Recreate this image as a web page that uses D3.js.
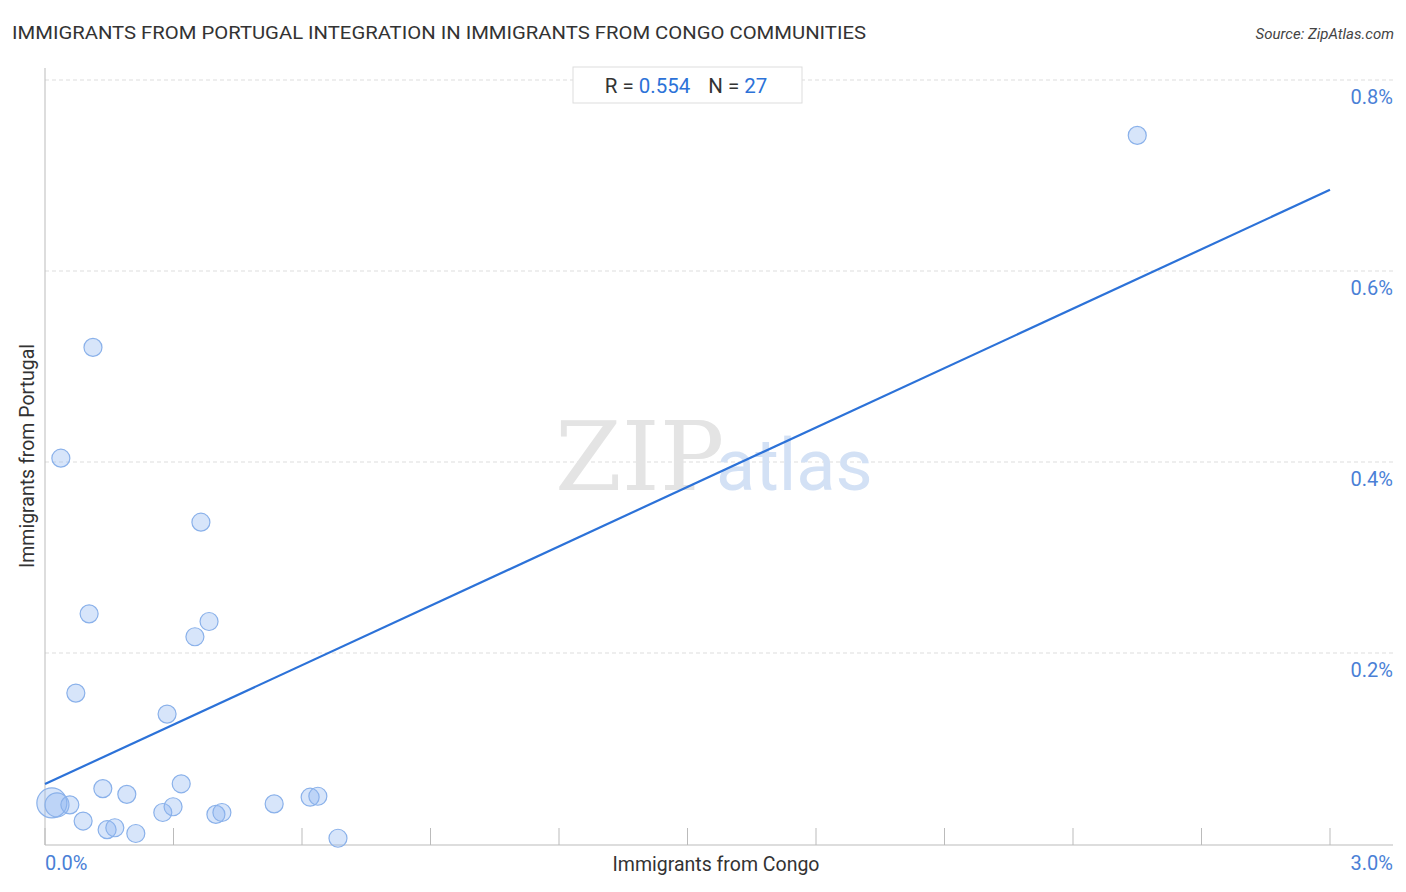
<!DOCTYPE html>
<html><head><meta charset="utf-8">
<script src="https://cdn.jsdelivr.net/npm/d3@7"></script>
<style>body{margin:0;background:#fff;font-family:Roboto,"Noto Sans",sans-serif}</style>
</head><body><svg id="c" width="1406" height="892"></svg>
<script>
const xVals = [0.016,0.028,0.058,0.072,0.089,0.103,0.112,0.037,0.135,0.145,0.163,0.191,0.212,0.275,0.285,0.299,0.318,0.350,0.364,0.383,0.399,0.413,0.535,0.619,0.637,0.684,2.550]
const yVals = [0.043,0.041,0.041,0.158,0.024,0.241,0.520,0.404,0.058,0.015,0.017,0.052,0.011,0.033,0.136,0.039,0.063,0.217,0.337,0.233,0.031,0.033,0.042,0.049,0.050,0.006,0.742]
const radii = [15,12,9,9,9,9,9,9,9,9,9,9,9,9,9,9,9,9,9,9,9,9,9,9,9,9,9]
const trend = [[0, 0.0628], [3.0, 0.685]]
const yTicks = [0.2, 0.4, 0.6, 0.8]

const svg = d3.select('#c')
const x = d3.scaleLinear().domain([0, 3]).range([45, 1330])
const y = d3.scaleLinear().domain([0, 0.8]).range([844, 80])
const blue = '#2c72d8'
const labelBlue = '#4a7fd6'

svg.append('text').attr('x', 12).attr('y', 39).attr('font-size', 18).attr('fill', '#333')
  .attr('textLength', 854).attr('lengthAdjust', 'spacingAndGlyphs')
  .text('IMMIGRANTS FROM PORTUGAL INTEGRATION IN IMMIGRANTS FROM CONGO COMMUNITIES')
svg.append('text').attr('x', 1394).attr('y', 39).attr('font-size', 15).attr('fill', '#444')
  .attr('text-anchor', 'end').attr('font-style', 'italic').text('Source: ZipAtlas.com')

// grid
svg.selectAll('.g').data(yTicks).enter().append('line')
  .attr('x1', 45).attr('x2', 1393).attr('y1', d => y(d)).attr('y2', d => y(d))
  .attr('stroke', '#ddd').attr('stroke-dasharray', '4,3')
svg.selectAll('.yl').data(yTicks).enter().append('text')
  .attr('x', 1393).attr('y', d => y(d) + 24).attr('text-anchor', 'end')
  .attr('font-size', 20).attr('fill', labelBlue).text(d => d.toFixed(1) + '%')

// axes
svg.append('line').attr('x1', 45).attr('x2', 45).attr('y1', 68).attr('y2', 845).attr('stroke', '#bbb')
svg.append('line').attr('x1', 45).attr('x2', 1393).attr('y1', 845).attr('y2', 845).attr('stroke', '#bbb')
svg.selectAll('.t').data(d3.range(0, 3.01, 0.3)).enter().append('line')
  .attr('x1', d => x(d)).attr('x2', d => x(d)).attr('y1', 828).attr('y2', 845).attr('stroke', '#bbb')
svg.append('text').attr('x', 45).attr('y', 870).attr('font-size', 20).attr('fill', labelBlue).text('0.0%')
svg.append('text').attr('x', 1393).attr('y', 870).attr('text-anchor', 'end').attr('font-size', 20).attr('fill', labelBlue).text('3.0%')
svg.append('text').attr('x', 716).attr('y', 871).attr('text-anchor', 'middle').attr('font-size', 19.5).attr('fill', '#333').text('Immigrants from Congo')
svg.append('text').attr('transform', 'translate(34,456) rotate(-90)').attr('text-anchor', 'middle').attr('font-size', 19.5).attr('fill', '#333').text('Immigrants from Portugal')

// watermark
svg.append('text').attr('x', 555).attr('y', 490).attr('font-size', 96).attr('font-family', 'DejaVu Serif, serif').attr('fill', '#e4e4e4').text('ZIP')
svg.append('text').attr('x', 716).attr('y', 490).attr('font-size', 72).attr('fill', '#d3e1f5').text('atlas')

// points
const pts = xVals.map((v, i) => ({ x: v, y: yVals[i], r: radii[i] }))
svg.selectAll('.p').data(pts).enter().append('circle')
  .attr('cx', d => x(d.x)).attr('cy', d => y(d.y)).attr('r', d => d.r)
  .attr('fill', 'rgba(140,180,240,0.35)').attr('stroke', '#8ab1ea').attr('stroke-width', 1.2)

svg.append('line').attr('x1', x(trend[0][0])).attr('y1', y(trend[0][1]))
  .attr('x2', x(trend[1][0])).attr('y2', y(trend[1][1])).attr('stroke', blue).attr('stroke-width', 2.2)

// stat box
svg.append('rect').attr('x', 573).attr('y', 67).attr('width', 229).attr('height', 36).attr('fill', '#fff').attr('stroke', '#ddd')
const st = svg.append('text').attr('x', 686).attr('y', 93).attr('text-anchor', 'middle').attr('font-size', 20.5)
st.append('tspan').attr('fill', '#333').text('R = ')
st.append('tspan').attr('fill', blue).text('0.554')
st.append('tspan').attr('fill', '#333').attr('dx', 18).text('N = ')
st.append('tspan').attr('fill', blue).text('27')
</script></body></html>
